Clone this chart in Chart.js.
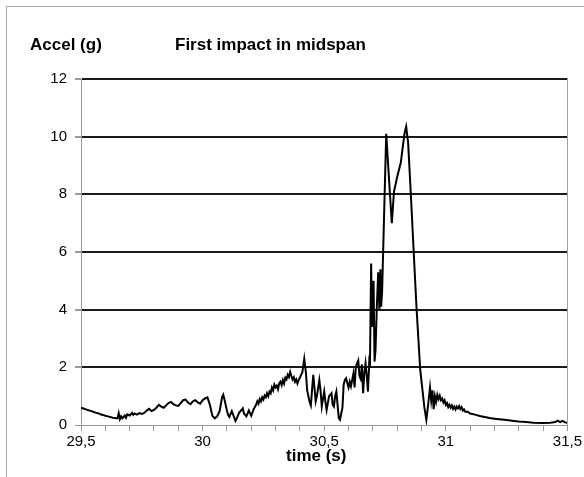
<!DOCTYPE html>
<html>
<head>
<meta charset="utf-8">
<script src="https://cdn.jsdelivr.net/npm/chart.js@4"></script>
<style>
body { margin: 0; background: #fff; }
#wrap { position: relative; width: 584px; height: 477px; overflow: hidden; font-family: "Liberation Sans", Arial, sans-serif; }
#frame { position: absolute; left: 6px; top: 6px; width: 640px; height: 520px; border: 1px solid #a8a8a8; }
#chart { position: absolute; left: 0; top: 0; }
.lbl { position: absolute; font-weight: bold; font-size: 17px; color: #000; white-space: nowrap; line-height: 20px; }
</style>
</head>
<body>
<div id="wrap">
  <div id="frame"></div>
  <canvas id="chart" width="584" height="477"></canvas>
  <div class="lbl" style="left:30px; top:35px;">Accel (g)</div>
  <div class="lbl" style="left:175px; top:35px;">First impact in midspan</div>
  <div class="lbl" style="left:286px; top:446px;">time (s)</div>
</div>
<script>
// time (s) and acceleration (g)
const timeSec = [
  // quiet start
  29.50, 29.51, 29.52, 29.53, 29.54, 29.55, 29.56, 29.57, 29.58, 29.59,
  29.60, 29.61, 29.62, 29.63, 29.64, 29.65, 29.655, 29.66, 29.665, 29.67,
  29.68, 29.685, 29.69, 29.70, 29.71, 29.715, 29.72, 29.73, 29.74, 29.75,
  29.76, 29.77, 29.78, 29.79, 29.80, 29.81, 29.82, 29.83, 29.84, 29.85,
  29.86, 29.87, 29.88, 29.89, 29.90, 29.91, 29.92, 29.93, 29.94, 29.95,
  29.96, 29.97, 29.98, 29.99, 30.00, 30.01, 30.02, 30.03, 30.04, 30.05,
  30.06, 30.07, 30.08, 30.085, 30.09, 30.10, 30.105, 30.11, 30.12, 30.13,
  30.135, 30.14, 30.15, 30.16, 30.165, 30.17, 30.18, 30.19, 30.20, 30.21,
  // rise
  30.220, 30.225, 30.230, 30.235, 30.240, 30.245, 30.250, 30.255, 30.260, 30.265,
  30.270, 30.275, 30.280, 30.285, 30.290, 30.295, 30.300, 30.305, 30.310, 30.315,
  30.320, 30.325, 30.330, 30.335, 30.340, 30.345, 30.350, 30.355, 30.360, 30.365,
  30.370, 30.375, 30.380, 30.385, 30.390, 30.395, 30.400, 30.405, 30.410,
  // impact
  30.418, 30.425, 30.43, 30.44, 30.445, 30.45, 30.455, 30.46, 30.465, 30.47,
  30.48, 30.485, 30.49, 30.50, 30.505, 30.51, 30.52, 30.53, 30.535, 30.54,
  30.545, 30.55, 30.555, 30.56, 30.565, 30.57, 30.575, 30.58, 30.585, 30.59,
  30.60, 30.605, 30.61, 30.62, 30.625, 30.63, 30.64, 30.645, 30.65, 30.655,
  30.66, 30.665, 30.67, 30.675, 30.68, 30.685, 30.688, 30.693, 30.697, 30.703,
  30.707, 30.711, 30.716, 30.722, 30.727, 30.731, 30.734, 30.738, 30.755, 30.766,
  30.778, 30.787, 30.800, 30.815, 30.830, 30.837, 30.845, 30.855, 30.868, 30.880,
  30.895, 30.912, 30.920, 30.928, 30.935, 30.940, 30.945, 30.950, 30.955, 30.960,
  // decay
  30.965, 30.970, 30.975, 30.980, 30.985, 30.990, 30.995, 31.000, 31.005, 31.010,
  31.015, 31.020, 31.025, 31.030, 31.035, 31.040, 31.045, 31.050, 31.055, 31.060,
  31.065, 31.070, 31.075, 31.080, 31.09, 31.10, 31.12, 31.14, 31.16, 31.18,
  31.20, 31.22, 31.25, 31.28, 31.30, 31.33, 31.36, 31.40, 31.43, 31.45,
  31.46, 31.47, 31.48, 31.49, 31.50
];
const accelG = [
  // quiet start
  0.60, 0.57, 0.54, 0.51, 0.49, 0.46, 0.43, 0.41, 0.37, 0.35,
  0.32, 0.30, 0.28, 0.25, 0.24, 0.23, 0.41, 0.20, 0.30, 0.23,
  0.33, 0.25, 0.37, 0.33, 0.42, 0.35, 0.40, 0.36, 0.41, 0.38,
  0.42, 0.50, 0.56, 0.48, 0.52, 0.60, 0.70, 0.64, 0.60, 0.68,
  0.76, 0.80, 0.72, 0.68, 0.66, 0.76, 0.86, 0.88, 0.78, 0.72,
  0.82, 0.86, 0.78, 0.74, 0.86, 0.92, 0.96, 0.70, 0.32, 0.23,
  0.30, 0.48, 0.96, 1.05, 0.88, 0.50, 0.34, 0.28, 0.48, 0.26,
  0.14, 0.22, 0.42, 0.52, 0.58, 0.40, 0.30, 0.50, 0.32, 0.55,
  // rise
  0.70, 0.82, 0.74, 0.90, 0.82, 0.96, 0.88, 1.02, 0.96, 1.10,
  1.00, 1.16, 1.10, 1.30, 1.20, 1.40, 1.30, 1.36, 1.24, 1.44,
  1.50, 1.38, 1.56, 1.44, 1.64, 1.58, 1.74, 1.66, 1.84, 1.70,
  1.58, 1.66, 1.50, 1.58, 1.44, 1.56, 1.64, 1.74, 1.82,
  // impact
  2.30, 1.80, 1.20, 0.80, 0.68, 1.20, 1.74, 1.30, 0.82, 1.00,
  1.56, 1.20, 0.64, 1.16, 0.80, 0.52, 1.00, 1.10, 0.70, 0.64,
  1.00, 1.16, 0.70, 0.24, 0.18, 0.40, 0.60, 1.40, 1.56, 1.62,
  1.30, 1.50, 1.34, 1.78, 1.30, 2.02, 2.24, 1.70, 1.60, 2.10,
  1.10, 1.80, 2.14, 1.70, 1.16, 2.14, 2.00, 5.60, 3.40, 5.00,
  2.20, 2.60, 4.00, 5.30, 4.00, 5.40, 4.10, 4.60, 10.10, 8.60,
  7.00, 8.10, 8.60, 9.10, 10.10, 10.35, 9.80, 8.20, 6.00, 4.00,
  1.90, 0.60, 0.18, 0.75, 1.30, 0.85, 1.20, 0.55, 1.00, 0.80,
  // decay
  1.05, 0.90, 1.02, 0.86, 0.92, 0.78, 0.86, 0.70, 0.76, 0.62,
  0.70, 0.60, 0.68, 0.56, 0.64, 0.54, 0.64, 0.58, 0.66, 0.56,
  0.62, 0.50, 0.54, 0.46, 0.46, 0.40, 0.36, 0.31, 0.28, 0.24,
  0.22, 0.20, 0.17, 0.14, 0.12, 0.10, 0.08, 0.07, 0.08, 0.10,
  0.15, 0.10, 0.14, 0.09, 0.08
];
const xMajorTicks = [29.5, 30, 30.5, 31, 31.5];
const xTickLabels = ['29,5', '30', '30,5', '31', '31,5'];
const yTicks = [0, 2, 4, 6, 8, 10, 12];

const points = timeSec.map((t, i) => ({ x: t, y: accelG[i] }));

const plotBorder = {
  id: 'plotBorder',
  afterDraw(chart) {
    const a = chart.chartArea;
    const c = chart.ctx;
    c.save();
    c.strokeStyle = '#a0a0a0';
    c.lineWidth = 1;
    c.beginPath();
    c.moveTo(Math.round(a.right) + 0.5, a.top);
    c.lineTo(Math.round(a.right) + 0.5, a.bottom);
    c.stroke();
    c.restore();
  }
};

new Chart(document.getElementById('chart').getContext('2d'), {
  type: 'line',
  data: {
    datasets: [{
      data: points,
      borderColor: '#000',
      borderWidth: 2,
      pointRadius: 0,
      tension: 0,
      fill: false
    }]
  },
  options: {
    responsive: false,
    animation: false,
    devicePixelRatio: 1,
    layout: { padding: { top: 79, right: 16, left: 0, bottom: 0 } },
    plugins: { legend: { display: false }, tooltip: { enabled: false } },
    scales: {
      x: {
        type: 'linear',
        min: 29.5,
        max: 31.5,
        afterFit: s => { s.height = 52; },
        ticks: {
          stepSize: 0.1,
          autoSkip: false,
          maxRotation: 0,
          padding: 2,
          color: '#000',
          font: { family: 'Liberation Sans', size: 15 },
          callback: v => {
            const i = xMajorTicks.findIndex(m => Math.abs(m - v) < 1e-6);
            return i >= 0 ? xTickLabels[i] : '';
          }
        },
        grid: { drawOnChartArea: false, tickLength: 6, tickColor: '#999' },
        border: { color: '#999', width: 1 }
      },
      y: {
        min: 0,
        max: 12,
        afterFit: s => { s.width = 81; },
        afterBuildTicks: s => { s.ticks = yTicks.map(v => ({ value: v })); },
        ticks: {
          color: '#000',
          padding: 8,
          font: { family: 'Liberation Sans', size: 15 }
        },
        grid: {
          color: ctx => (ctx.tick && ctx.tick.value === 0 ? '#999' : '#1a1a1a'),
          lineWidth: ctx => (ctx.tick && ctx.tick.value === 0 ? 1 : 2),
          tickLength: 6,
          tickColor: '#999'
        },
        border: { color: '#999', width: 1 }
      }
    }
  },
  plugins: [plotBorder]
});
</script>
</body>
</html>
